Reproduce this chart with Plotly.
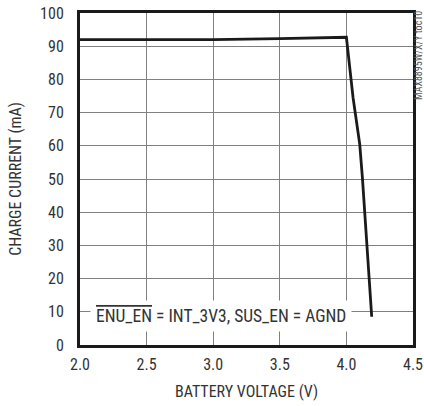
import plotly.graph_objects as go

# Data
battery_voltage = [2.0, 2.5, 3.0, 3.5, 4.0, 4.05, 4.1, 4.12, 4.155, 4.175, 4.19]
charge_current = [92.0, 92.0, 92.0, 92.3, 92.7, 74.5, 60.5, 50.5, 30.0, 20.0, 8.5]

x_ticks = [2.0, 2.5, 3.0, 3.5, 4.0, 4.5]
x_tick_labels = ["2.0", "2.5", "3.0", "3.5", "4.0", "4.5"]
y_ticks = [0, 10, 20, 30, 40, 50, 60, 70, 80, 90, 100]

FONT = "Roboto Condensed, Liberation Sans Narrow, Arial Narrow, sans-serif"

fig = go.Figure()
fig.add_trace(go.Scatter(
    x=battery_voltage, y=charge_current, mode="lines",
    line=dict(color="#1a1a1a", width=2.8), showlegend=False, hoverinfo="skip"))

fig.update_layout(
    template="none",
    width=424, height=406,
    margin=dict(l=80, r=11, t=13, b=61),
    paper_bgcolor="white", plot_bgcolor="white",
    font=dict(family=FONT, size=16, color="#333333"),
    xaxis=dict(range=[2.0, 4.5], tickmode="array", tickvals=x_ticks, ticktext=x_tick_labels,
               showgrid=True, gridcolor="#808080", gridwidth=1,
               showline=True, mirror=True, linecolor="#1a1a1a", linewidth=3,
               ticks="", zeroline=False, tickfont=dict(size=16), ticklabelstandoff=3,
               title=dict(text="BATTERY VOLTAGE (V)", font=dict(size=16), standoff=13)),
    yaxis=dict(range=[0, 100], tickmode="array", tickvals=y_ticks,
               showgrid=True, gridcolor="#808080", gridwidth=1,
               showline=True, mirror=True, linecolor="#1a1a1a", linewidth=3,
               ticks="", zeroline=False, tickfont=dict(size=16), ticklabelstandoff=10,
               title=dict(text="CHARGE CURRENT (mA)", font=dict(size=16), standoff=15)),
    annotations=[
        dict(x=3.06, y=8.6, xref="x", yref="y", showarrow=False,
             text='<span style="text-decoration:overline">ENU_EN</span> = INT_3V3, SUS_EN = AGND',
             font=dict(size=17.5, color="#333333"), bgcolor="white", borderpad=5),
        dict(x=1.0, y=1.0, xref="paper", yref="paper", xanchor="left", yanchor="top",
             xshift=-2, yshift=4, showarrow=False, textangle=-90,
             text="MAX8895W/X/Y toc10", font=dict(size=10, color="#555555")),
    ],
)

fig.write_html("out.html", config={"displayModeBar": False},
               post_script="document.body.style.margin='0';")
